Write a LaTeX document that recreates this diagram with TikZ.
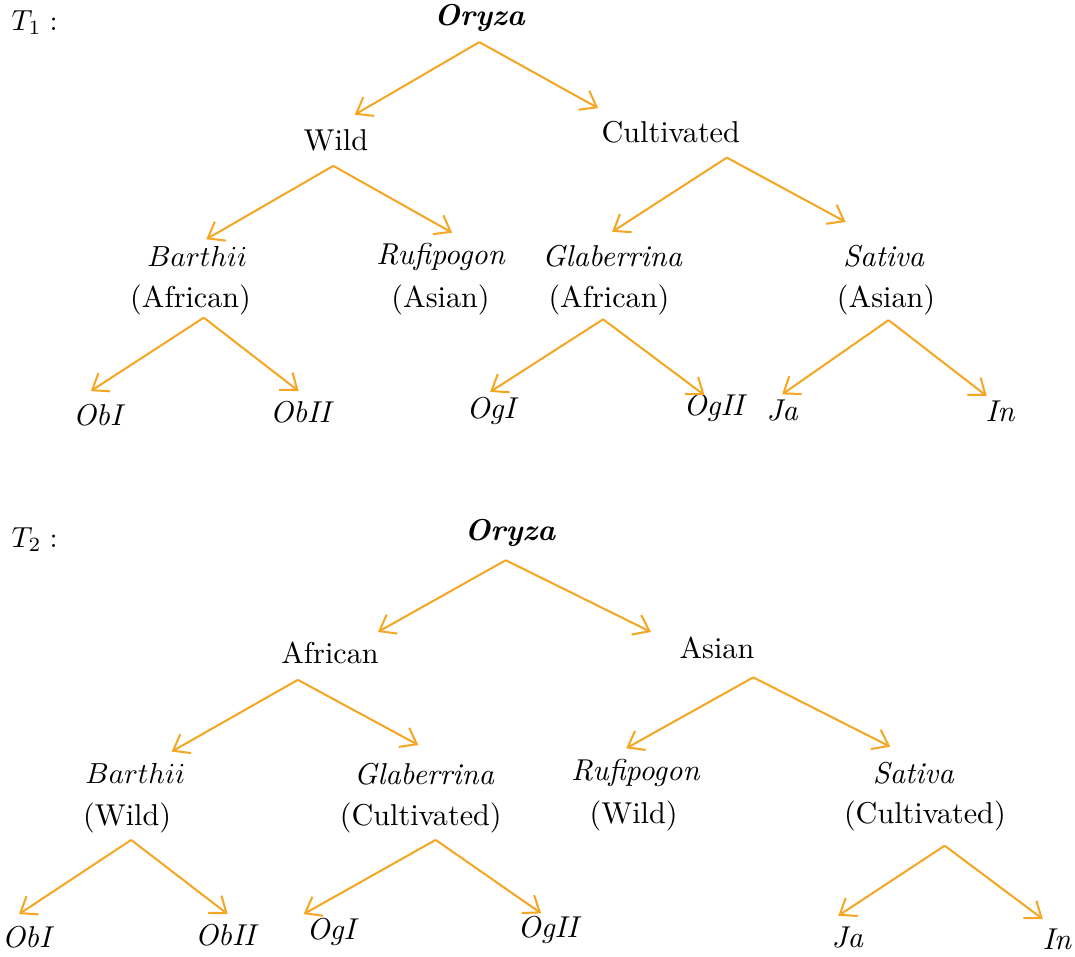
\documentclass[tikz,border=0pt]{standalone}
\usepackage{xcolor}
\usepackage{tikz}
\usetikzlibrary{arrows.meta}
\definecolor{branchOrange}{RGB}{245,166,35}
\tikzset{
	branch/.style={-{Straight Barb[length=5pt, width=7.5pt]}, line width=0.7pt, branchOrange},
	taxon/.style={inner sep=0.1em, font=\itshape},
	group/.style={inner sep=0.1em}
}

\begin{document}
\begin{tikzpicture}
	\fontsize{10.4}{12.5}\selectfont
	\useasboundingbox (0,0) rectangle (13.03,-11.59);

	% first tree
	\node[group] (labA) at (0.42,-0.27) {$T_1:$};
	\node[taxon, font=\bfseries\itshape] (oryzaA) at (5.81,-0.22) {Oryza};
	\node[group] (wildA) at (4.07,-1.70) {Wild};
	\node[group] (cultA) at (8.13,-1.60) {Cultivated};
	\node[taxon] (barthiiA) at (2.39,-3.11) {$Barthii$};
	\node[group] (barthiiAreg) at (2.31,-3.64) {(African)};
	\node[taxon] (rufiA) at (5.34,-3.11) {Rufipogon};
	\node[group] (rufiAreg) at (5.34,-3.64) {(Asian)};
	\node[taxon] (glabA) at (7.42,-3.11) {Glaberrina};
	\node[group] (glabAreg) at (7.38,-3.64) {(African)};
	\node[taxon] (satA) at (10.71,-3.11) {Sativa};
	\node[group] (satAreg) at (10.74,-3.64) {(Asian)};
	\node[taxon] (obIA) at (1.18,-5.03) {ObI};
	\node[taxon] (obIIA) at (3.64,-4.99) {ObII};
	\node[taxon] (ogIA) at (5.95,-4.98) {OgI};
	\node[taxon] (ogIIA) at (8.65,-4.94) {OgII};
	\node[taxon] (jaA) at (9.48,-4.97) {Ja};
	\node[taxon] (inA) at (12.12,-4.99) {In};

	\coordinate (oryzaA-a) at (5.81,-0.51);
	\coordinate (wildA-t) at (4.30,-1.39);
	\coordinate (cultA-t) at (7.25,-1.31);
	\coordinate (wildA-a) at (4.04,-2.01);
	\coordinate (barthiiA-t) at (2.50,-2.90);
	\coordinate (rufiA-t) at (5.48,-2.82);
	\coordinate (cultA-a) at (8.81,-1.91);
	\coordinate (glabA-t) at (7.42,-2.81);
	\coordinate (satA-t) at (10.25,-2.69);
	\coordinate (barthiiA-a) at (2.47,-3.85);
	\coordinate (obIA-t) at (1.10,-4.74);
	\coordinate (obIIA-t) at (3.62,-4.74);
	\coordinate (glabA-a) at (7.31,-3.87);
	\coordinate (ogIA-t) at (5.94,-4.75);
	\coordinate (ogIIA-t) at (8.54,-4.79);
	\coordinate (satA-a) at (10.77,-3.88);
	\coordinate (jaA-t) at (9.48,-4.78);
	\coordinate (inA-t) at (11.96,-4.80);

	\draw[branch] (oryzaA-a) -- (wildA-t);
	\draw[branch] (oryzaA-a) -- (cultA-t);
	\draw[branch] (wildA-a) -- (barthiiA-t);
	\draw[branch] (wildA-a) -- (rufiA-t);
	\draw[branch] (cultA-a) -- (glabA-t);
	\draw[branch] (cultA-a) -- (satA-t);
	\draw[branch] (barthiiA-a) -- (obIA-t);
	\draw[branch] (barthiiA-a) -- (obIIA-t);
	\draw[branch] (glabA-a) -- (ogIA-t);
	\draw[branch] (glabA-a) -- (ogIIA-t);
	\draw[branch] (satA-a) -- (jaA-t);
	\draw[branch] (satA-a) -- (inA-t);

	% second tree
	\node[group] (labB) at (0.42,-6.54) {$T_2:$};
	\node[taxon, font=\bfseries\itshape] (oryzaB) at (6.18,-6.46) {Oryza};
	\node[group] (afrB) at (4.00,-7.91) {African};
	\node[group] (asiB) at (8.69,-7.85) {Asian};
	\node[taxon] (barthiiB) at (1.64,-9.38) {$Barthii$};
	\node[group] (barthiiBreg) at (1.54,-9.91) {(Wild)};
	\node[taxon] (glabB) at (5.14,-9.38) {Glaberrina};
	\node[group] (glabBreg) at (5.10,-9.91) {(Cultivated)};
	\node[taxon] (rufiB) at (7.70,-9.37) {Rufipogon};
	\node[group] (rufiBreg) at (7.68,-9.89) {(Wild)};
	\node[taxon] (satB) at (11.07,-9.37) {Sativa};
	\node[group] (satBreg) at (11.21,-9.89) {(Cultivated)};
	\node[taxon] (obIB) at (0.32,-11.36) {ObI};
	\node[taxon] (obIIB) at (2.73,-11.33) {ObII};
	\node[taxon] (ogIB) at (4.01,-11.30) {OgI};
	\node[taxon] (ogIIB) at (6.64,-11.27) {OgII};
	\node[taxon] (jaB) at (10.27,-11.36) {Ja};
	\node[taxon] (inB) at (12.81,-11.38) {In};

	\coordinate (oryzaB-a) at (6.13,-6.79);
	\coordinate (afrB-t) at (4.58,-7.66);
	\coordinate (asiB-t) at (7.89,-7.66);
	\coordinate (afrB-a) at (3.61,-8.24);
	\coordinate (barthiiB-t) at (2.08,-9.11);
	\coordinate (glabB-t) at (5.07,-9.03);
	\coordinate (asiB-a) at (9.13,-8.21);
	\coordinate (rufiB-t) at (7.59,-9.07);
	\coordinate (satB-t) at (10.79,-9.05);
	\coordinate (barthiiB-a) at (1.59,-10.18);
	\coordinate (obIB-t) at (0.23,-11.08);
	\coordinate (obIIB-t) at (2.76,-11.08);
	\coordinate (glabB-a) at (5.28,-10.18);
	\coordinate (ogIB-t) at (3.68,-11.08);
	\coordinate (ogIIB-t) at (6.56,-11.07);
	\coordinate (satB-a) at (11.45,-10.25);
	\coordinate (jaB-t) at (10.16,-11.10);
	\coordinate (inB-t) at (12.64,-11.14);

	\draw[branch] (oryzaB-a) -- (afrB-t);
	\draw[branch] (oryzaB-a) -- (asiB-t);
	\draw[branch] (afrB-a) -- (barthiiB-t);
	\draw[branch] (afrB-a) -- (glabB-t);
	\draw[branch] (asiB-a) -- (rufiB-t);
	\draw[branch] (asiB-a) -- (satB-t);
	\draw[branch] (barthiiB-a) -- (obIB-t);
	\draw[branch] (barthiiB-a) -- (obIIB-t);
	\draw[branch] (glabB-a) -- (ogIB-t);
	\draw[branch] (glabB-a) -- (ogIIB-t);
	\draw[branch] (satB-a) -- (jaB-t);
	\draw[branch] (satB-a) -- (inB-t);
\end{tikzpicture}
\end{document}
